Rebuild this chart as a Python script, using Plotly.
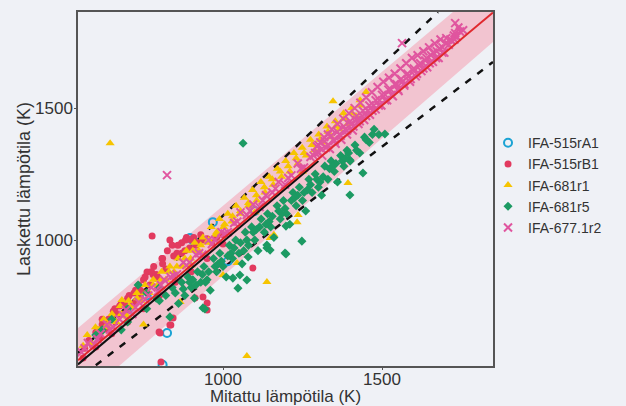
import plotly.graph_objects as go

# ---------------- data (K) ----------------
# IFA-515rA1 (open circles)
a1_x = [896, 905, 968, 824, 810, 1015, 700, 1100, 760]
a1_y = [1008, 1000, 1068, 648, 528, 920, 720, 1110, 790]

# IFA-515rB1 (filled crimson circles)
b1_x = [560, 565, 578, 590, 600, 612, 625, 638, 650, 662, 675, 688, 700, 712, 725, 738, 750, 761,
        770, 782, 795, 808, 820, 833, 845, 858, 870, 882, 895, 908, 920, 935, 950, 965, 980, 1000,
        600, 650, 700, 750, 800, 850, 900, 950, 1000,
        937, 950, 912, 833, 802, 805, 950, 1094, 799, 836, 843, 777, 620, 660, 740, 780,
        810, 850, 880, 720, 680,
        605, 620, 640, 655, 670, 690, 705, 720, 735, 755, 775, 790, 810, 825, 840, 855, 870,
        885, 900, 915, 930]
b1_y = [553, 590, 620, 600, 650, 630, 680, 660, 710, 690, 750, 720, 780, 750, 810, 790, 850, 879,
        830, 900, 860, 930, 890, 1000, 940, 980, 950, 1000, 970, 1010, 990, 1000, 1005, 990, 1010, 1020,
        595, 645, 690, 740, 790, 840, 880, 930, 985,
        784, 762, 781, 678, 648, 538, 735, 894, 652, 678, 705, 1015, 700, 740, 810, 870,
        930, 940, 960, 760, 760,
        660, 680, 700, 730, 720, 760, 790, 800, 830, 860, 880, 870, 910, 960, 980, 950, 990,
        1010, 1000, 980, 1020]

# IFA-681r1 (yellow triangles)
r1_x = [560, 573, 586, 599, 612, 625, 638, 651, 664, 677, 690, 703, 716, 729, 742, 755, 768, 781,
        794, 807, 820, 833, 846, 859, 872, 885, 898, 911, 924, 937, 950, 963, 976, 989, 1002, 1015,
        1028, 1041, 1054, 1067, 1080, 1093, 1106, 1119, 1132, 1145, 1158, 1171, 1184, 1197, 1210,
        1223, 1236, 1249, 1262, 1275, 1288, 1301, 1314, 1327, 1340, 1353, 1366, 1379, 1392, 1405,
        1418, 1431, 1450, 1346,
        700, 900, 1100, 1250,
        1233, 1236, 1148, 1000, 1138, 1044, 865, 1393, 1075, 645, 1160, 750, 682,
        610, 630, 655, 680, 705, 730, 755, 780, 805, 830, 855, 880, 905, 930, 955, 980, 1005,
        1030, 1055, 1080, 1105, 1130, 1155, 1180, 1205, 1230, 1255, 1280, 1305, 1330, 1355,
        1380, 1405, 1430]
r1_y = [600, 640, 610, 670, 650, 700, 680, 720, 690, 750, 720, 770, 745, 800, 770, 830, 800, 850,
        830, 880, 850, 900, 880, 930, 900, 960, 930, 990, 960, 1010, 990, 1050, 1020, 1080, 1050, 1100,
        1070, 1130, 1100, 1160, 1130, 1190, 1150, 1220, 1180, 1240, 1210, 1270, 1240, 1300, 1260,
        1330, 1290, 1350, 1320, 1380, 1340, 1400, 1370, 1430, 1390, 1450, 1420, 1480, 1440, 1500,
        1470, 1530, 1561, 1526,
        710, 905, 1105, 1260,
        1068, 1095, 1008, 868, 841, 913, 765, 1216, 561, 1367, 1020, 680, 773,
        660, 670, 700, 720, 750, 780, 800, 830, 850, 880, 900, 930, 960, 980, 1000, 1030, 1060,
        1090, 1110, 1140, 1170, 1200, 1230, 1260, 1280, 1310, 1330, 1360, 1380, 1410, 1430,
        1460, 1480, 1510]

# IFA-681r5 (green)
r5_x = [850, 860, 870, 880, 890, 900, 910, 920, 930, 940, 950, 960, 970, 980, 990, 1000, 1010,
        1020, 1030, 1040, 1050, 1060, 1070, 1080, 1090, 1100, 1110, 1120, 1130, 1140, 1150, 1160,
        1170, 1180, 1190, 1200, 1210, 1220, 1230, 1240, 1250, 1260, 1270, 1280, 1290, 1300, 1310,
        1320, 1330, 1340, 1350, 1360, 1370, 1380, 1390, 1400, 1415, 1430, 1445, 1460, 1475, 1490,
        600, 616, 650, 680, 700, 733, 760, 790, 800, 820, 840,
        1509, 1440, 1399, 1399, 1248, 1198, 1079, 1031, 1053, 1075, 1047, 1198, 1138, 943,
        833, 937, 1195, 1138, 1148, 1063,
        875, 895, 915, 935, 955, 975, 995, 1015, 1035, 1055, 1075, 1095, 1115, 1135, 1155, 1175,
        1195, 1215, 1235, 1255, 1275, 1295, 1315, 1335, 1355, 1375, 1395, 1420, 1450, 1470,
        905, 945, 985, 1025, 1065, 1105, 1145, 1185, 1225, 1265, 1305, 1345, 1385,
        620, 700, 760, 800]
r5_y = [800, 760, 840, 790, 860, 820, 780, 880, 840, 900, 850, 810, 930, 880, 950, 900, 860,
        980, 930, 1000, 950, 910, 1030, 980, 1050, 1000, 960, 1080, 1030, 1100, 1050, 1010,
        1130, 1080, 1150, 1100, 1060, 1180, 1130, 1200, 1150, 1110, 1230, 1180, 1250, 1200, 1170,
        1280, 1230, 1300, 1260, 1220, 1320, 1280, 1340, 1300, 1360, 1330, 1390, 1370, 1420, 1400,
        640, 652, 700, 660, 690, 830, 740, 780, 770, 790, 820,
        1402, 1254, 1303, 1171, 996, 947, 936, 856, 868, 849, 818, 1053, 970, 739,
        709, 743, 951, 981, 962, 1367,
        815, 840, 830, 870, 880, 900, 920, 940, 970, 990, 1000, 1030, 1050, 1060, 1090, 1110,
        1120, 1150, 1170, 1180, 1210, 1230, 1240, 1270, 1290, 1300, 1330, 1340, 1380, 1400,
        850, 840, 910, 950, 960, 1040, 1070, 1100, 1160, 1190, 1220, 1280, 1310,
        660, 740, 800, 820]

# IFA-677.1r2 (pink crosses)
r2_x = [555, 575, 595, 615, 635, 655, 675, 695, 715, 735, 755, 775, 795, 815, 835, 855, 875, 895,
        915, 935, 955, 975, 995, 1015, 1035, 1055, 1075, 1095, 1115, 1135, 1155, 1175, 1195, 1215,
        1235, 1255, 1275, 1295,
        1300, 1306, 1312, 1318, 1324, 1330, 1336, 1342, 1348, 1354, 1360, 1366, 1372, 1378, 1384,
        1390, 1396, 1402, 1408, 1414, 1420, 1426, 1432, 1438, 1444, 1450, 1456, 1462, 1468, 1474,
        1480, 1486, 1492, 1498, 1504, 1510, 1516, 1522, 1528, 1534, 1540, 1546, 1552, 1558, 1564,
        1570, 1576, 1582, 1588, 1594, 1600, 1606, 1612, 1618, 1624, 1630, 1636, 1642, 1648, 1654,
        1660, 1666, 1672, 1678, 1684, 1690, 1696, 1702, 1710, 1718, 1726, 1735, 1745, 1755,
        1563, 1730, 1730, 824, 1740,
        1290, 1300, 1310, 1320, 1330, 1340, 1350, 1360, 1370, 1380, 1390, 1400, 1410, 1420, 1430,
        1440, 1450, 1460, 1470, 1480, 1490, 1500, 1510, 1520, 1530, 1540, 1550, 1560, 1570, 1580,
        1590, 1600, 1610, 1620, 1630, 1640, 1650, 1660, 1670, 1680, 1690, 1700, 1715, 1728,
        565, 605, 645, 685, 725, 765, 805, 845, 885, 925, 965, 1005, 1045, 1085, 1125, 1165,
        1205, 1245, 1285]
r2_y = [575, 610, 605, 645, 680, 670, 700, 735, 720, 765, 775, 820, 805, 850, 860, 870, 915, 915,
        945, 945, 1000, 1000, 1030, 1030, 1065, 1105, 1095, 1135, 1125, 1170, 1180, 1220, 1210, 1245,
        1290, 1275, 1315, 1355,
        1330, 1370, 1320, 1390, 1350, 1400, 1345, 1420, 1380, 1365, 1440, 1400, 1380, 1460, 1420,
        1400, 1480, 1440, 1415, 1500, 1455, 1440, 1520, 1470, 1455, 1540, 1490, 1475, 1560, 1510,
        1495, 1580, 1530, 1510, 1600, 1550, 1530, 1615, 1570, 1545, 1630, 1590, 1565, 1650, 1600,
        1585, 1670, 1620, 1600, 1690, 1640, 1620, 1700, 1660, 1640, 1715, 1680, 1655, 1730, 1700,
        1675, 1745, 1715, 1690, 1760, 1730, 1710, 1765, 1740, 1755, 1775, 1770, 1790, 1795,
        1746, 1822, 1784, 1246, 1805,
        1330, 1360, 1345, 1375, 1360, 1395, 1375, 1410, 1395, 1430, 1415, 1450, 1430, 1470, 1450,
        1490, 1470, 1510, 1490, 1530, 1510, 1550, 1530, 1570, 1550, 1590, 1570, 1610, 1590, 1630,
        1610, 1650, 1630, 1670, 1650, 1690, 1670, 1710, 1690, 1725, 1710, 1745, 1760, 1760,
        590, 625, 660, 715, 745, 790, 830, 865, 905, 950, 985, 1025, 1070, 1110, 1150, 1195,
        1235, 1270, 1320]

# reference lines / band (K)
band_x = [544, 1849, 1849, 544]
band_y = [667, 1992, 1750, 388]
upper_dash_x = [544, 1676]
upper_dash_y = [572, 1864]
lower_dash_x = [600, 1849]
lower_dash_y = [526, 1675]
fit_x = [544, 1300]
fit_y = [529, 1300]
ideal_x = [544, 1849]
ideal_y = [545, 1862]

series_names = ["IFA-515rA1", "IFA-515rB1", "IFA-681r1", "IFA-681r5", "IFA-677.1r2"]

BG = "#eff1f6"
FONT = "Liberation Sans, Arial, sans-serif"
fig = go.Figure()

fig.add_trace(go.Scatter(x=band_x, y=band_y, fill="toself", mode="lines",
                         line=dict(width=0), fillcolor="#f2c4d0", showlegend=False, hoverinfo="skip"))
fig.add_trace(go.Scatter(x=upper_dash_x, y=upper_dash_y, mode="lines",
                         line=dict(color="#111111", width=2.5, dash="7px,8px"), showlegend=False))
fig.add_trace(go.Scatter(x=lower_dash_x, y=lower_dash_y, mode="lines",
                         line=dict(color="#111111", width=2.5, dash="7px,8px"), showlegend=False))

fig.add_trace(go.Scatter(x=a1_x, y=a1_y, mode="markers", name=series_names[0],
                         marker=dict(symbol="circle-open", size=8, color="#1ba3d4", line=dict(width=2))))
fig.add_trace(go.Scatter(x=b1_x, y=b1_y, mode="markers", name=series_names[1],
                         marker=dict(symbol="circle", size=7, color="#e23a5f")))
fig.add_trace(go.Scatter(x=r1_x, y=r1_y, mode="markers", name=series_names[2],
                         marker=dict(symbol="triangle-up", size=8, color="#f6c400")))
fig.add_trace(go.Scatter(x=r5_x, y=r5_y, mode="markers", name=series_names[3],
                         marker=dict(symbol="diamond", size=7, color="#1c9a63")))
fig.add_trace(go.Scatter(x=r2_x, y=r2_y, mode="markers", name=series_names[4],
                         marker=dict(symbol="x-thin-open", size=8, color="#e0559f",
                                     line=dict(width=2, color="#e0559f"))))

fig.add_trace(go.Scatter(x=fit_x, y=fit_y, mode="lines",
                         line=dict(color="#111111", width=2), showlegend=False))
fig.add_trace(go.Scatter(x=ideal_x, y=ideal_y, mode="lines",
                         line=dict(color="#e0282d", width=2), showlegend=False))

axis_common = dict(showline=True, linecolor="#555555", linewidth=1.5, mirror=True,
                   showgrid=False, zeroline=False, ticks="outside", ticklen=2,
                   tickcolor="#555555", tickvals=[1000, 1500], automargin=False,
                   tickfont=dict(family=FONT, size=17, color="#333333"))

fig.update_layout(
    width=626, height=406,
    margin=dict(l=78, r=133, t=12, b=40),
    paper_bgcolor=BG, plot_bgcolor=BG,
    xaxis=dict(range=[544, 1849], ticklabelstandoff=-5,
               title=dict(text="Mitattu lämpötila (K)", standoff=0,
                          font=dict(family=FONT, size=17, color="#333333")),
               **axis_common),
    yaxis=dict(range=[523, 1864], ticklabelstandoff=-2,
               title=dict(text="Laskettu lämpötila (K)", standoff=0,
                          font=dict(family=FONT, size=18, color="#333333")),
               **axis_common),
    legend=dict(x=0.988, y=0.511, xanchor="left", yanchor="middle", bgcolor="rgba(0,0,0,0)",
                font=dict(family=FONT, size=14, color="#333333"),
                tracegroupgap=0, itemwidth=30),
    showlegend=True,
)

fig.write_html("out.html")
